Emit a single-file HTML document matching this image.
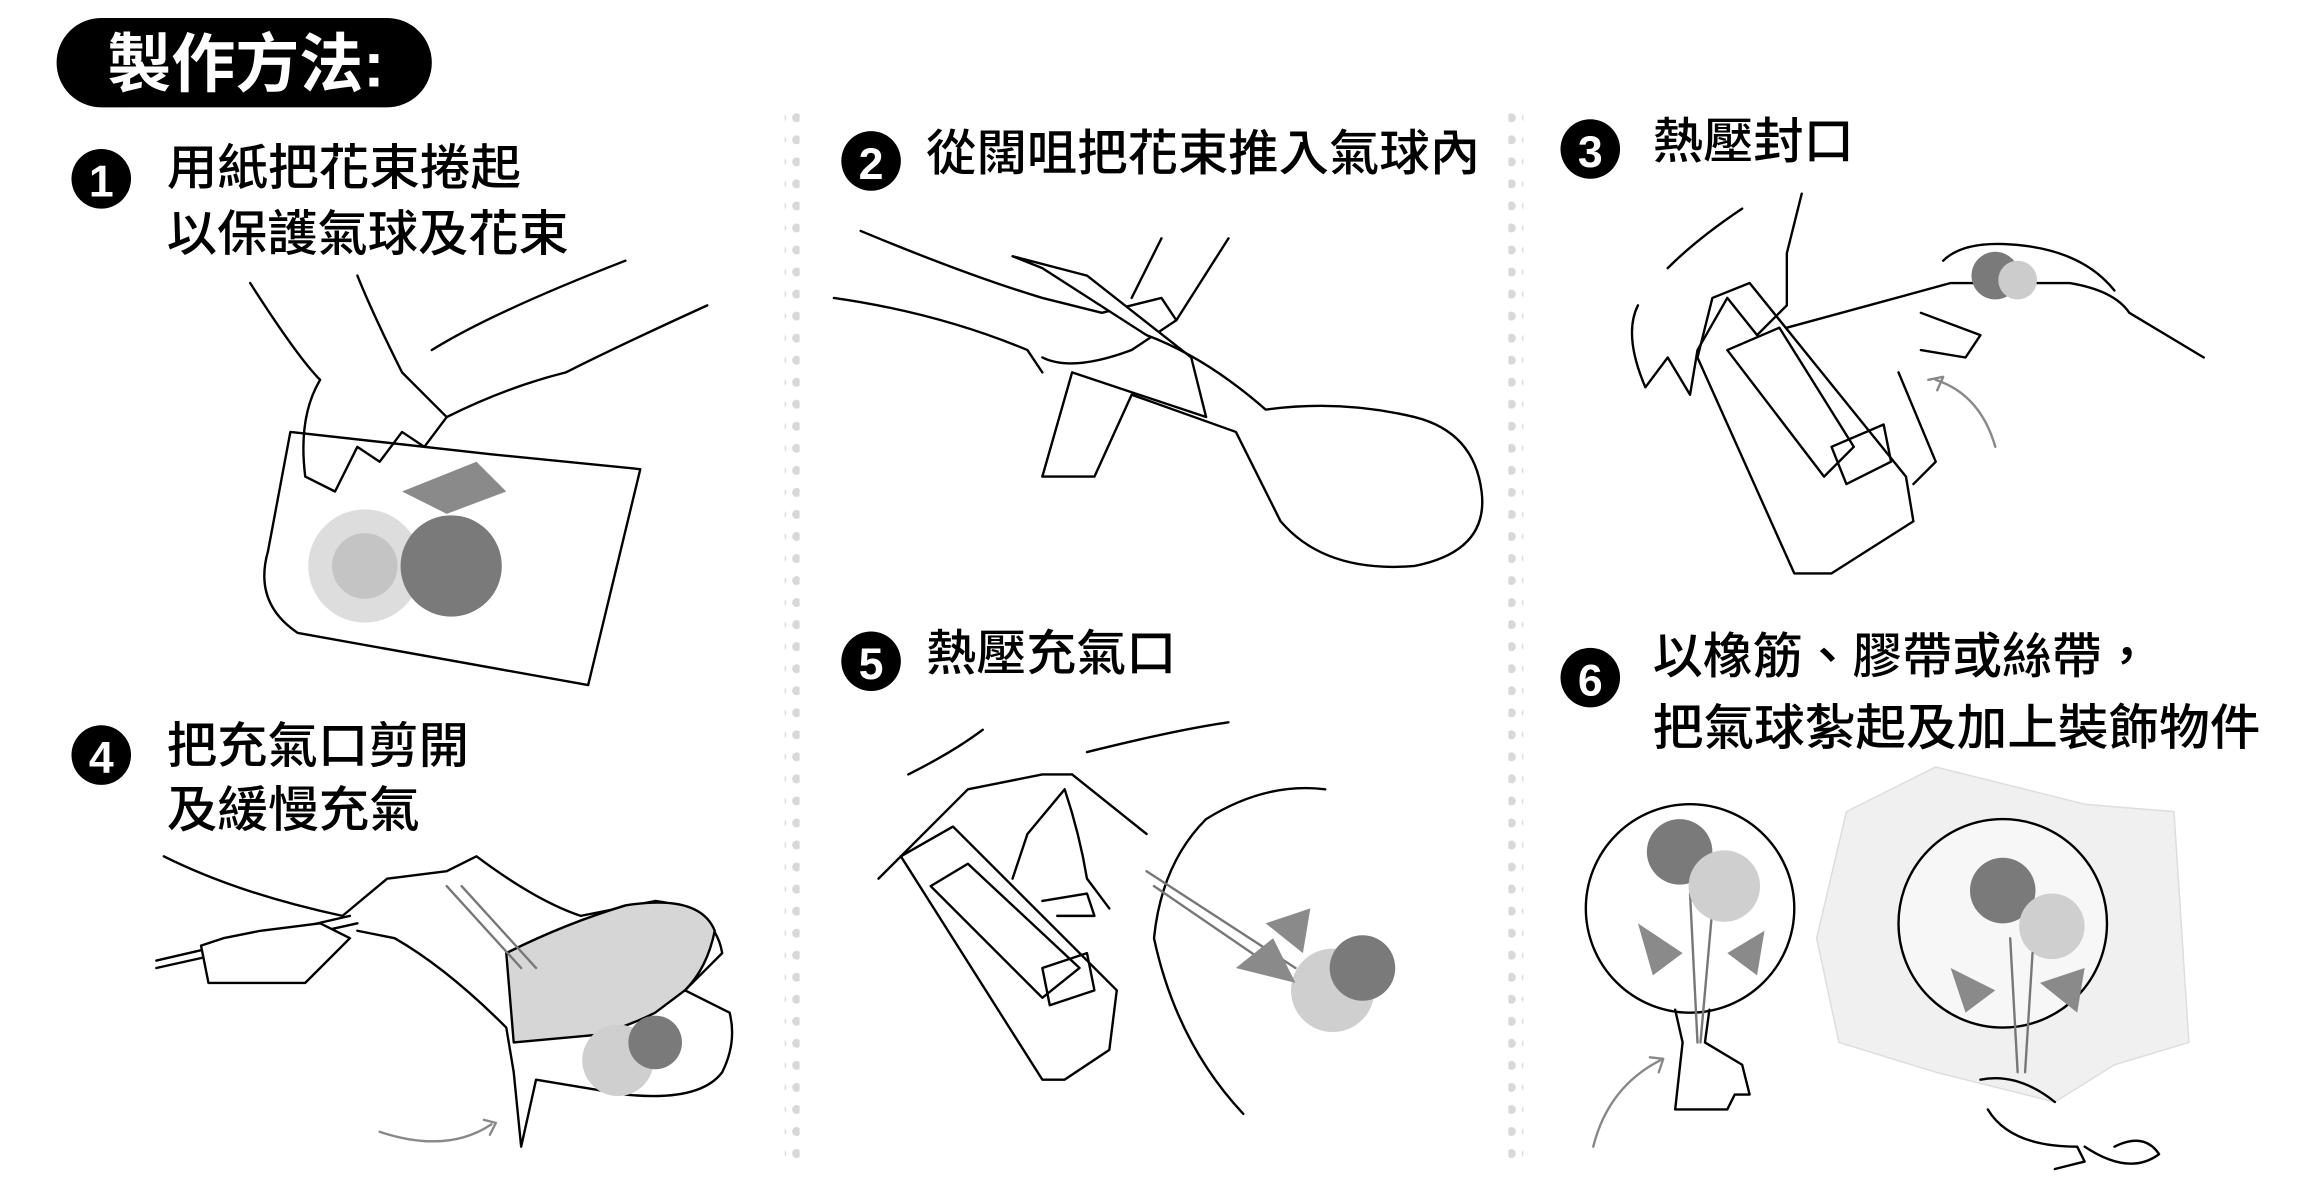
<!DOCTYPE html>
<html><head><meta charset="utf-8"><style>
html,body{margin:0;padding:0;background:#fff}
svg{display:block}
text{font-family:"Liberation Sans","Noto Sans CJK TC",sans-serif}
</style></head><body>
<svg width="2308" height="1187" viewBox="0 0 1550 797" xmlns="http://www.w3.org/2000/svg">
<defs>
<pattern id="dots" width="10" height="14.8" patternUnits="userSpaceOnUse"><circle cx="5" cy="5" r="3" fill="#d8d8d8"/></pattern>
</defs>
<rect x="38" y="12" width="252" height="60" rx="30" fill="#000"/>
<text x="72" y="58" font-size="43" font-weight="700" fill="#fff">製作方法:</text>
<rect x="527" y="68" width="10" height="712" fill="url(#dots)"/>
<rect x="1013" y="68" width="10" height="712" fill="url(#dots)"/>

<g font-size="33" font-weight="500" fill="#000">
<circle cx="68" cy="120" r="20"/><text x="68" y="132" font-size="30" font-weight="700" fill="#fff" text-anchor="middle">1</text>
<text x="112" y="124" textLength="238" lengthAdjust="spacingAndGlyphs">用紙把花束捲起</text>
<text x="112" y="168" textLength="270" lengthAdjust="spacingAndGlyphs">以保護氣球及花束</text>
<circle cx="585" cy="108" r="20"/><text x="585" y="120" font-size="30" font-weight="700" fill="#fff" text-anchor="middle">2</text>
<text x="622" y="114" textLength="372" lengthAdjust="spacingAndGlyphs">從闊咀把花束推入氣球內</text>
<circle cx="1068" cy="100" r="20"/><text x="1068" y="112" font-size="30" font-weight="700" fill="#fff" text-anchor="middle">3</text>
<text x="1110" y="106" textLength="135" lengthAdjust="spacingAndGlyphs">熱壓封口</text>
<circle cx="68" cy="507" r="20"/><text x="68" y="519" font-size="30" font-weight="700" fill="#fff" text-anchor="middle">4</text>
<text x="112" y="512" textLength="203" lengthAdjust="spacingAndGlyphs">把充氣口剪開</text>
<text x="112" y="555" textLength="170" lengthAdjust="spacingAndGlyphs">及緩慢充氣</text>
<circle cx="585" cy="444" r="20"/><text x="585" y="456" font-size="30" font-weight="700" fill="#fff" text-anchor="middle">5</text>
<text x="622" y="450" textLength="168" lengthAdjust="spacingAndGlyphs">熱壓充氣口</text>
<circle cx="1068" cy="455" r="20"/><text x="1068" y="467" font-size="30" font-weight="700" fill="#fff" text-anchor="middle">6</text>
<text x="1110" y="452" textLength="335" lengthAdjust="spacingAndGlyphs">以橡筋、膠帶或絲帶，</text>
<text x="1110" y="500" textLength="408" lengthAdjust="spacingAndGlyphs">把氣球紮起及加上裝飾物件</text>
</g>

<g fill="none" stroke="#000" stroke-width="1.6" stroke-linecap="round" stroke-linejoin="round">
<path d="M180 370 L195 290 L330 305 L430 315 L395 460 L200 425 Q170 405 180 370Z" fill="#fff"/>
<path d="M168 190 Q200 240 215 255 Q200 280 205 320 L225 330 L240 300 L255 310 L270 290 L285 300 L300 280 L270 250 Q250 210 240 185"/>
<path d="M290 235 Q330 210 420 175 M300 280 Q340 260 380 250 Q420 230 475 205"/>
<circle cx="245" cy="380" r="38" fill="#ddd" stroke="none"/>
<circle cx="303" cy="380" r="34" fill="#7a7a7a" stroke="none"/>
<circle cx="245" cy="380" r="22" fill="#c4c4c4" stroke="none"/>
<path d="M270 330 L320 310 L340 330 L300 345Z" fill="#8a8a8a" stroke="none"/>
<path d="M578 155 Q650 185 700 200 L740 210 L780 200 L790 215 L760 235 Q720 250 700 240" />
<path d="M560 200 Q630 210 690 235 L700 250"/>
<path d="M680 172 L730 185 L800 240 L810 280 L720 250 L700 320 L735 320 L760 265 L830 290 L860 350 Q890 385 950 380 Q1000 370 995 330 Q990 290 950 280 Q900 268 850 275 Q810 240 770 225 L700 180Z" fill="#fff"/>
<path d="M760 200 L780 160 M790 215 L825 160"/>
<path d="M1150 200 L1175 190 L1280 320 L1285 350 L1230 385 L1205 385 L1140 240Z" fill="#fff"/>
<path d="M1160 235 L1195 220 L1245 300 L1225 320Z"/>
<path d="M1230 300 L1265 285 L1270 310 L1240 325Z"/>
<path d="M1200 220 L1310 190 L1390 190 Q1420 195 1430 210 L1480 240 M1290 210 L1330 225 L1320 240 L1290 235 M1275 250 L1300 310 L1285 325"/>
<path d="M1100 205 Q1090 225 1105 260 L1120 240 L1135 265 L1140 235 L1160 200 L1180 225 L1200 205 L1200 170 L1210 130 M1120 180 Q1140 160 1170 140"/>
<path d="M1305 175 Q1320 160 1360 165 Q1400 170 1420 195" />
<circle cx="1340" cy="185" r="16" fill="#7a7a7a" stroke="none"/>
<circle cx="1355" cy="188" r="13" fill="#ccc" stroke="none"/>
<path d="M1340 300 Q1330 265 1300 255" stroke="#888"/><path d="M1295 255 l10 -2 l-4 9" stroke="#888"/>
<path d="M110 575 Q160 600 230 615 L260 590 L300 585 L320 575 Q360 605 390 615 L440 605 Q480 610 485 640 Q470 655 460 665 L490 680 Q495 700 485 720 Q470 740 420 735 L360 725 L350 770 L345 720 L340 690 Q300 650 265 630 L240 625"/>
<path d="M105 650 L240 620 M105 645 L235 615" />
<path d="M135 635 L140 660 L205 660 L215 650 L235 630 L215 620 L175 625 L150 630Z" fill="#fff"/>
<path d="M340 640 Q380 620 420 608 Q470 600 480 625 Q475 650 460 665 L440 680 Q420 690 400 695 L345 700Z" fill="#d6d6d6"/>
<circle cx="415" cy="712" r="24" fill="#cfcfcf" stroke="none"/>
<circle cx="440" cy="700" r="18" fill="#7a7a7a" stroke="none"/>
<path d="M300 595 L350 650 M310 595 L360 650" stroke="#777"/>
<path d="M255 760 Q300 775 330 755" stroke="#888"/><path d="M325 752 l8 2 l-4 8" stroke="#888"/>
<path d="M605 575 L640 555 L750 665 L745 705 L715 725 L700 725 Z" fill="#fff"/>
<path d="M625 595 L650 580 L725 650 L700 670Z"/>
<path d="M700 650 L730 640 L735 665 L705 675Z"/>
<path d="M610 520 Q640 505 660 490 M590 590 Q620 560 650 530 L700 520 L720 520 M680 590 L690 560 L715 530 Q725 560 730 590 L745 610"/>
<path d="M700 605 L730 600 L735 615 L710 615"/>
<path d="M835 748 Q790 700 775 630 Q780 580 810 550 Q850 525 890 530"/>
<path d="M720 520 L770 560 M730 505 Q790 490 825 485"/>
<path d="M770 585 L870 650 M775 595 L870 660" stroke="#777"/>
<circle cx="895" cy="665" r="28" fill="#cfcfcf" stroke="none"/>
<circle cx="915" cy="650" r="22" fill="#7a7a7a" stroke="none"/>
<path d="M830 650 L855 630 L870 660 Z M850 620 L880 610 L875 640Z" fill="#8a8a8a" stroke="none"/>
<circle cx="1135" cy="610" r="70"/>
<path d="M1125 678 L1130 700 L1125 745 L1160 745 L1165 735 L1175 735 L1170 715 L1145 700 L1148 678"/>
<path d="M1135 600 L1140 700 M1150 610 L1142 700" stroke="#777"/>
<circle cx="1128" cy="572" r="22" fill="#7a7a7a" stroke="none"/>
<circle cx="1158" cy="595" r="24" fill="#cfcfcf" stroke="none"/>
<path d="M1100 620 L1130 640 L1110 655Z M1160 640 L1185 625 L1180 655Z" fill="#8a8a8a" stroke="none"/>
<path d="M1070 770 Q1080 730 1115 712" stroke="#888"/><path d="M1108 710 l9 1 l-3 9" stroke="#888"/>
<path d="M1240 545 L1300 515 L1400 540 L1460 545 L1470 700 L1420 715 L1380 740 L1300 720 L1235 700 L1220 630Z" fill="#f0f0f0" stroke="#ddd" stroke-width="1"/>
<circle cx="1345" cy="620" r="70" fill="#f7f7f7" stroke="#000"/>
<circle cx="1345" cy="598" r="22" fill="#7a7a7a" stroke="none"/>
<circle cx="1378" cy="622" r="22" fill="#cfcfcf" stroke="none"/>
<path d="M1310 650 L1340 665 L1320 680Z M1370 660 L1400 650 L1395 680Z" fill="#8a8a8a" stroke="none"/>
<path d="M1350 630 L1355 720 M1365 640 L1360 720" stroke="#777"/>
<path d="M1330 725 Q1355 720 1380 740 M1335 745 Q1350 770 1395 770 L1400 780 L1380 785 M1400 770 Q1430 790 1450 775 Q1440 760 1420 770"/>
</g>
</svg>
</body></html>
